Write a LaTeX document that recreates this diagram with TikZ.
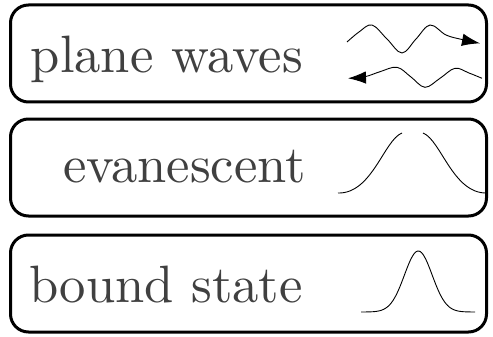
\documentclass[tikz,border=0pt]{standalone}
\usetikzlibrary{arrows.meta}
\definecolor{txtgray}{HTML}{404040}
\font\bigtxt="[lmroman10-regular]:+tlig;" at 52.6pt
\tikzset{
  panel/.style={draw=black, line width=3pt, rounded corners=18pt, minimum width=476pt, minimum height=97pt, inner sep=0pt},
  label/.style={anchor=base east, text=txtgray, inner sep=0pt, font=\bigtxt},
  curve/.style={line width=0.9pt, black},
}
\begin{document}
\begin{tikzpicture}[x=1pt,y=-1pt]
\useasboundingbox (0,0) rectangle (493,337);
\node[panel] (p1) at (248.5,53.5) {};
\node[panel] (p2) at (248.5,167.5) {};
\node[panel] (p3) at (248.5,283.5) {};
\node[label] (t1) at (303,73) {plane waves};
\node[label] (t2) at (306,182) {evanescent};
\node[label] (t3) at (303,302) {bound state};
% plane waves
\draw[curve,-{Latex[length=18pt,width=12.5pt]}] plot[smooth,tension=0.6] coordinates {(347,42) (359,32) (372,25) (387,39) (402,53) (416,39) (430,25) (446,35) (462,39.5) (480,43.3)};
\draw[curve,{Latex[length=18pt,width=12.5pt]}-] plot[smooth,tension=0.6] coordinates {(348,78.3) (365,76.7) (380,71.7) (397,67.3) (411,77) (425,87.3) (440,78.3) (455,68.3) (469,73) (482,78.3)};
% evanescent
\draw[curve] (338,193) .. controls (372,194) and (384,140) .. (402,133);
\draw[curve] (423,133) .. controls (441,140) and (453,194) .. (487,193);
% bound state
\draw[curve] plot[domain=361:475,samples=80,smooth] (\x,{312-61*exp(-((\x-418.3)/19.6)^2)});
\end{tikzpicture}
\end{document}
